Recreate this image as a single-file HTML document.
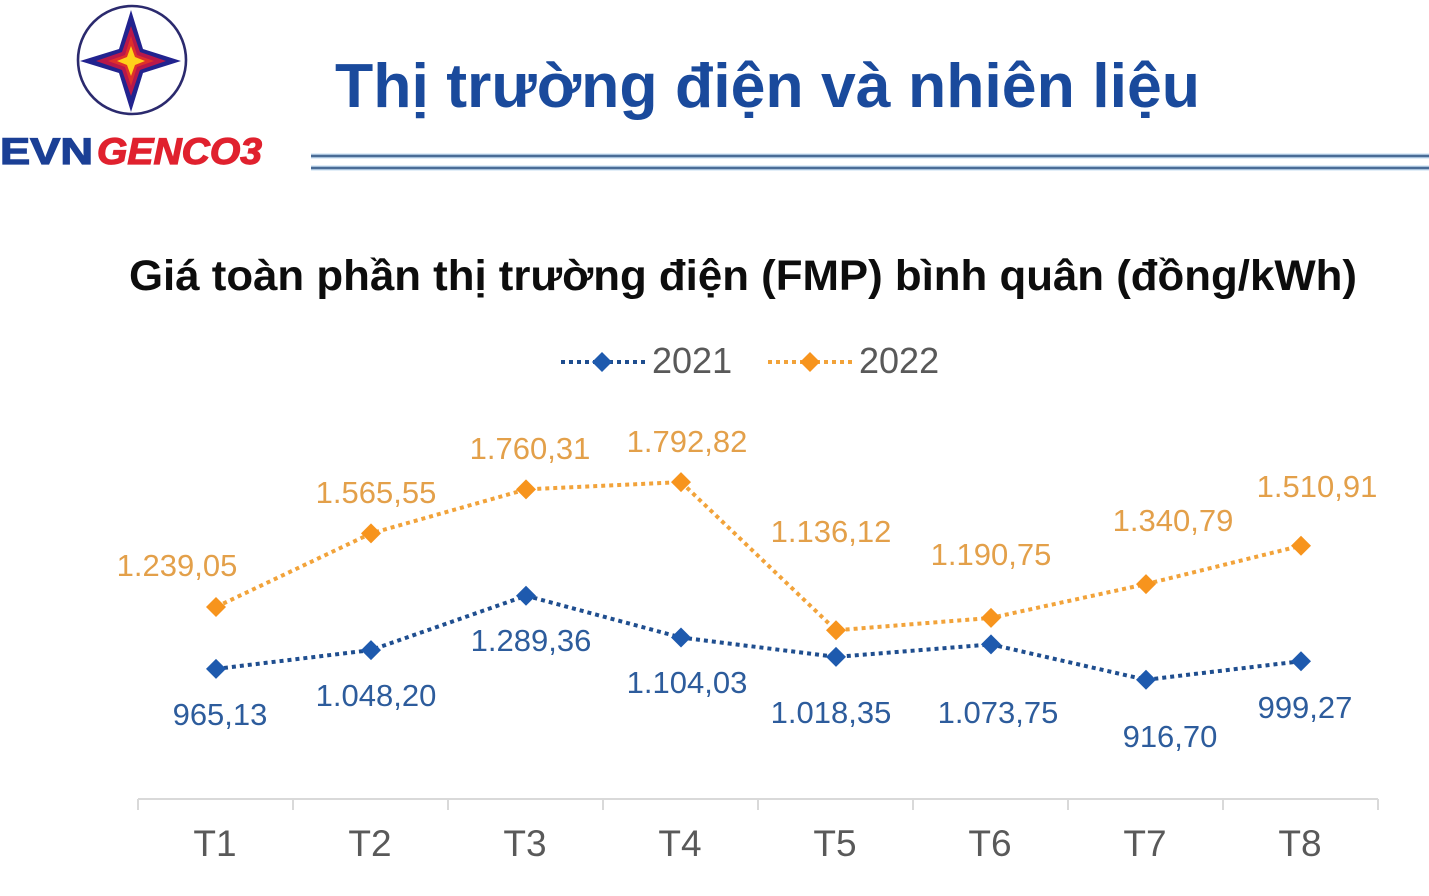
<!DOCTYPE html>
<html>
<head>
<meta charset="utf-8">
<style>
  html, body { margin: 0; padding: 0; background: #ffffff; }
  svg { display: block; }
  text { font-family: "Liberation Sans", Arial, sans-serif; }
</style>
</head>
<body>
<svg width="1429" height="896" viewBox="0 0 1429 896" xmlns="http://www.w3.org/2000/svg">
  <rect width="1429" height="896" fill="#ffffff"/>

  <!-- Logo -->
  <circle cx="132" cy="60" r="54" fill="none" stroke="#2b2a6e" stroke-width="2.6"/>
  <polygon points="131,10 143,49 181,61 143,73 131,112 119,73 80,61 119,49" fill="#22238f"/>
  <polygon points="131,26 140,52 166,61 140,70 131,96 122,70 96,61 122,52" fill="#b8184a"/>
  <polygon points="131,36 137,55 154,61 137,67 131,86 125,67 108,61 125,55" fill="#e0302a"/>
  <polygon points="131,46 135,57 145,61 135,65 131,76 127,65 117,61 127,57" fill="#ffd21a"/>
  <text x="0" y="164" font-size="37" font-weight="bold" fill="#1b3f95" stroke="#1b3f95" stroke-width="1.2" textLength="93" lengthAdjust="spacingAndGlyphs">EVN</text>
  <text x="97" y="164" font-size="37" font-weight="bold" font-style="italic" fill="#e0212e" stroke="#e0212e" stroke-width="1.2" textLength="165" lengthAdjust="spacingAndGlyphs">GENCO3</text>

  <!-- Title -->
  <text x="335" y="107" font-size="62" font-weight="bold" fill="#1a4a9c" textLength="865" lengthAdjust="spacingAndGlyphs">Thị trường điện và nhiên liệu</text>

  <!-- Header lines -->
  <line x1="311" y1="156" x2="1429" y2="156" stroke="#c4dcf0" stroke-width="5"/>
  <line x1="311" y1="168" x2="1429" y2="168" stroke="#c4dcf0" stroke-width="5"/>
  <line x1="311" y1="156" x2="1429" y2="156" stroke="#4a6c96" stroke-width="2.5"/>
  <line x1="311" y1="168" x2="1429" y2="168" stroke="#4a6c96" stroke-width="2.5"/>

  <!-- Subtitle -->
  <text x="129" y="290" font-size="43" font-weight="bold" fill="#0d0d0d" textLength="1228" lengthAdjust="spacingAndGlyphs">Giá toàn phần thị trường điện (FMP) bình quân (đồng/kWh)</text>

  <!-- Legend -->
  <line x1="561" y1="362" x2="645" y2="362" stroke="#1f4e8f" stroke-width="4" stroke-dasharray="4 4"/>
  <polygon points="602,352 612,362 602,372 592,362" fill="#1e5aae"/>
  <text x="652" y="373" font-size="36" fill="#595959">2021</text>
  <line x1="768" y1="362" x2="852" y2="362" stroke="#f2a33a" stroke-width="4" stroke-dasharray="4 4"/>
  <polygon points="810,352 820,362 810,372 800,362" fill="#f7941d"/>
  <text x="859" y="373" font-size="36" fill="#595959">2022</text>

  <!-- Axis -->
  <line x1="138" y1="799" x2="1378" y2="799" stroke="#d9d9d9" stroke-width="2"/>
  <g stroke="#d9d9d9" stroke-width="2">
    <line x1="138" y1="799" x2="138" y2="810"/>
    <line x1="293" y1="799" x2="293" y2="810"/>
    <line x1="448" y1="799" x2="448" y2="810"/>
    <line x1="603" y1="799" x2="603" y2="810"/>
    <line x1="758" y1="799" x2="758" y2="810"/>
    <line x1="913" y1="799" x2="913" y2="810"/>
    <line x1="1068" y1="799" x2="1068" y2="810"/>
    <line x1="1223" y1="799" x2="1223" y2="810"/>
    <line x1="1378" y1="799" x2="1378" y2="810"/>
  </g>
  <g font-size="37" fill="#595959" text-anchor="middle">
    <text x="215" y="856">T1</text>
    <text x="370" y="856">T2</text>
    <text x="525" y="856">T3</text>
    <text x="680" y="856">T4</text>
    <text x="835" y="856">T5</text>
    <text x="990" y="856">T6</text>
    <text x="1145" y="856">T7</text>
    <text x="1300" y="856">T8</text>
  </g>

  <!-- Series 2022 (orange) -->
  <polyline points="216,607 371,533.4 526,489.4 681,482.1 836,630.3 991,617.9 1146,584.1 1301,545.7"
            fill="none" stroke="#f2a33a" stroke-width="4" stroke-dasharray="4 4"/>
  <g fill="#f7941d">
    <polygon points="216,597 226,607 216,617 206,607"/>
    <polygon points="371,523.4 381,533.4 371,543.4 361,533.4"/>
    <polygon points="526,479.4 536,489.4 526,499.4 516,489.4"/>
    <polygon points="681,472.1 691,482.1 681,492.1 671,482.1"/>
    <polygon points="836,620.3 846,630.3 836,640.3 826,630.3"/>
    <polygon points="991,607.9 1001,617.9 991,627.9 981,617.9"/>
    <polygon points="1146,574.1 1156,584.1 1146,594.1 1136,584.1"/>
    <polygon points="1301,535.7 1311,545.7 1301,555.7 1291,545.7"/>
  </g>

  <!-- Series 2021 (blue) -->
  <polyline points="216,668.9 371,650.1 526,595.7 681,637.5 836,656.9 991,644.4 1146,679.8 1301,661.2"
            fill="none" stroke="#1f4e8f" stroke-width="4" stroke-dasharray="4 4"/>
  <g fill="#1e5aae">
    <polygon points="216,658.9 226,668.9 216,678.9 206,668.9"/>
    <polygon points="371,640.1 381,650.1 371,660.1 361,650.1"/>
    <polygon points="526,585.7 536,595.7 526,605.7 516,595.7"/>
    <polygon points="681,627.5 691,637.5 681,647.5 671,637.5"/>
    <polygon points="836,646.9 846,656.9 836,666.9 826,656.9"/>
    <polygon points="991,634.4 1001,644.4 991,654.4 981,644.4"/>
    <polygon points="1146,669.8 1156,679.8 1146,689.8 1136,679.8"/>
    <polygon points="1301,651.2 1311,661.2 1301,671.2 1291,661.2"/>
  </g>

  <!-- Orange labels -->
  <g font-size="31" fill="#e3a04a" text-anchor="middle">
    <text x="177" y="576">1.239,05</text>
    <text x="376" y="503">1.565,55</text>
    <text x="530" y="459">1.760,31</text>
    <text x="687" y="452">1.792,82</text>
    <text x="831" y="542">1.136,12</text>
    <text x="991" y="565">1.190,75</text>
    <text x="1173" y="531">1.340,79</text>
    <text x="1317" y="497">1.510,91</text>
  </g>

  <!-- Blue labels -->
  <g font-size="31" fill="#2d5c9c" text-anchor="middle">
    <text x="220" y="725">965,13</text>
    <text x="376" y="706">1.048,20</text>
    <text x="531" y="651">1.289,36</text>
    <text x="687" y="693">1.104,03</text>
    <text x="831" y="723">1.018,35</text>
    <text x="998" y="723">1.073,75</text>
    <text x="1170" y="747">916,70</text>
    <text x="1305" y="718">999,27</text>
  </g>
</svg>
</body>
</html>
